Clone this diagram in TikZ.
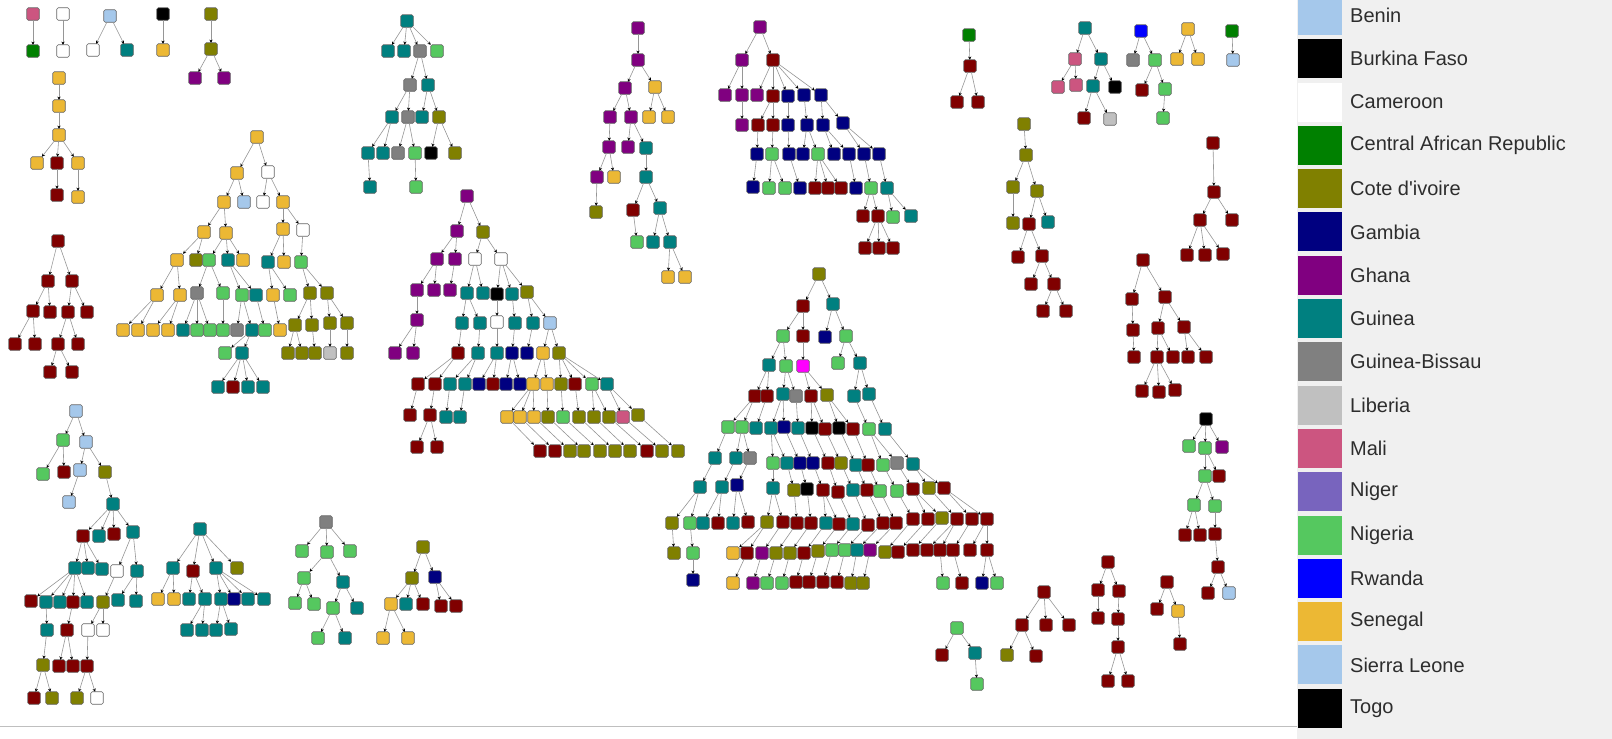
\documentclass[tikz,border=0pt]{standalone}
\usepackage{fontspec}
\newfontfamily\legfont{Liberation Sans}
\usetikzlibrary{arrows.meta}
\definecolor{cM}{RGB}{128,0,0}
\definecolor{cS}{RGB}{236,184,52}
\definecolor{cP}{RGB}{128,0,128}
\definecolor{cT}{RGB}{0,128,128}
\definecolor{cO}{RGB}{128,128,0}
\definecolor{cG}{RGB}{0,0,128}
\definecolor{cN}{RGB}{85,200,95}
\definecolor{cW}{RGB}{255,255,255}
\definecolor{cGB}{RGB}{128,128,128}
\definecolor{cL}{RGB}{192,192,192}
\definecolor{cMl}{RGB}{204,85,128}
\definecolor{cNg}{RGB}{120,100,190}
\definecolor{cSL}{RGB}{165,200,235}
\definecolor{cK}{RGB}{0,0,0}
\definecolor{cC}{RGB}{0,128,0}
\definecolor{cR}{RGB}{0,0,255}
\definecolor{cMg}{RGB}{255,0,255}
\definecolor{panel}{RGB}{240,240,240}
\definecolor{legtext}{RGB}{45,45,45}
\definecolor{edgegray}{RGB}{150,150,150}
\tikzset{
  nd/.style={draw=black!60, line width=0.6pt, rounded corners=1.5pt, minimum size=12.5pt, inner sep=0pt, outer sep=0pt},
  ed/.style={draw=edgegray, line width=0.6pt, -{Stealth[length=3.2pt,width=3.2pt,black]}},
  legsw/.style={minimum width=44pt, minimum height=39pt, inner sep=0pt, outer sep=0pt},
  legtx/.style={anchor=west, inner sep=0pt, text=legtext, font=\legfont\fontsize{20}{24}\selectfont}
}
\newcommand\RT[4]{\node[nd,fill=#4] (#1) at (#2,#3) {};}
\newcommand\CH[5]{\node[nd,fill=#5] (#1) at (#3,#4) {}; \draw[ed] (#2) -- (#1);}
\begin{document}
\begin{tikzpicture}[x=1pt,y=-1pt]
\useasboundingbox (0,0) rectangle (1612,739);
\fill[white] (0,0) rectangle (1612,739);
\fill[panel] (1297,0) rectangle (1612,739);
\draw[black!25, line width=0.8pt] (0,726) -- (1297,726);
% legend
\foreach \c/\t [count=\i from 0] in {cSL/Benin, cK/Burkina Faso, cW/Cameroon, cC/Central African Republic, cO/Cote d'ivoire, cG/Gambia, cP/Ghana, cT/Guinea, cGB/Guinea-Bissau, cL/Liberia, cMl/Mali, cNg/Niger, cN/Nigeria, cR/Rwanda, cS/Senegal, cSL/Sierra Leone, cK/Togo}{
  \node[legsw, fill=\c] (ls\i) at (1319.5, 15.4+43.3*\i) {};
  \node[legtx] (lt\i) at (1350, 15.4+43.3*\i) {\t};
}
% small trees top-left
\RT{a1}{33}{14}{cMl} \CH{a2}{a1}{33}{51}{cC}
\RT{b1}{63}{14}{cW} \CH{b2}{b1}{63}{51}{cW}
\RT{c1}{110}{16}{cSL} \CH{c2}{c1}{93}{50}{cW} \CH{c3}{c1}{127}{50}{cT}
\RT{d1}{163}{14}{cK} \CH{d2}{d1}{163}{50}{cS}
\RT{e1}{211}{14}{cO} \CH{e2}{e1}{211}{49}{cO} \CH{e3}{e2}{195}{78}{cP} \CH{e4}{e2}{224}{78}{cP}
\RT{f1}{59}{78}{cS} \CH{f2}{f1}{59}{106}{cS} \CH{f3}{f2}{59}{135}{cS}
\CH{f4}{f3}{37}{163}{cS} \CH{f5}{f3}{57}{163}{cM} \CH{f6}{f3}{78}{163}{cS}
\CH{f7}{f5}{57}{195}{cM} \CH{f8}{f6}{78}{197}{cS}
% maroon left
\RT{g1}{58}{241}{cM} \CH{g2}{g1}{48}{281}{cM} \CH{g3}{g1}{72}{281}{cM}
\CH{g4}{g2}{33}{311}{cM} \CH{g5}{g2}{50}{312}{cM} \CH{g6}{g3}{68}{312}{cM} \CH{g7}{g3}{87}{312}{cM}
\CH{g8}{g4}{15}{344}{cM} \CH{g9}{g4}{35}{344}{cM} \CH{g10}{g6}{58}{344}{cM} \CH{g11}{g6}{78}{344}{cM}
\CH{g12}{g10}{50}{372}{cM} \CH{g13}{g10}{72}{372}{cM}
% senegal tree
\RT{h1}{257}{137}{cS}
\CH{h2}{h1}{237}{173}{cS} \CH{h3}{h1}{268}{172}{cW}
\CH{h4}{h2}{224}{202}{cS} \CH{h5}{h2}{244}{202}{cSL} \CH{h6}{h3}{263}{202}{cW} \CH{h7}{h3}{283}{202}{cS}
\CH{h8}{h4}{204}{232}{cS} \CH{h9}{h4}{226}{233}{cS} \CH{h10}{h7}{283}{229}{cS} \CH{h11}{h7}{303}{230}{cW}
\CH{h12}{h8}{177}{260}{cS} \CH{h13}{h8}{196}{260}{cO} \CH{h14}{h9}{209}{260}{cN} \CH{h15}{h9}{228}{260}{cT} \CH{h16}{h9}{243}{260}{cS}
\CH{h17}{h10}{268}{262}{cT} \CH{h18}{h10}{284}{262}{cS} \CH{h19}{h11}{301}{262}{cN}
\CH{h20}{h12}{157}{295}{cS} \CH{h21}{h12}{180}{295}{cS} \CH{h22}{h14}{197}{293}{cGB} \CH{h23}{h14}{223}{293}{cN}
\CH{h24}{h15}{242}{295}{cN} \CH{h25}{h15}{256}{295}{cT} \CH{h26}{h17}{273}{295}{cS} \CH{h27}{h17}{290}{295}{cN}
\CH{h28}{h19}{310}{293}{cO} \CH{h29}{h19}{327}{293}{cO}
\CH{h30}{h20}{123}{330}{cS} \CH{h31}{h20}{138}{330}{cS} \CH{h32}{h21}{153}{330}{cS} \CH{h33}{h21}{168}{330}{cS}
\CH{h34}{h22}{183}{330}{cT} \CH{h35}{h22}{197}{330}{cN} \CH{h36}{h22}{210}{330}{cN} \CH{h37}{h23}{223}{330}{cN}
\CH{h38}{h24}{237}{330}{cGB} \CH{h39}{h24}{252}{330}{cT} \CH{h40}{h25}{265}{330}{cN} \CH{h41}{h26}{280}{330}{cS}
\CH{h42}{h28}{295}{325}{cO} \CH{h43}{h28}{312}{325}{cO} \CH{h44}{h29}{330}{323}{cO} \CH{h45}{h29}{347}{323}{cO}
\CH{h46}{h39}{225}{353}{cN} \CH{h47}{h39}{242}{353}{cT}
\CH{h48}{h42}{288}{353}{cO} \CH{h49}{h42}{302}{353}{cO} \CH{h50}{h43}{315}{353}{cO} \CH{h51}{h44}{330}{353}{cL} \CH{h52}{h45}{347}{353}{cO}
\CH{h53}{h47}{218}{387}{cT} \CH{h54}{h47}{233}{387}{cM} \CH{h55}{h47}{248}{387}{cT} \CH{h56}{h47}{263}{387}{cT}
% teal top tree
\RT{i1}{407}{21}{cT}
\CH{i2}{i1}{388}{51}{cT} \CH{i3}{i1}{404}{51}{cT} \CH{i4}{i1}{420}{51}{cGB} \CH{i5}{i1}{437}{51}{cN}
\CH{i6}{i4}{410}{85}{cGB} \CH{i7}{i4}{428}{85}{cT}
\CH{i8}{i6}{392}{117}{cT} \CH{i9}{i6}{408}{117}{cGB} \CH{i10}{i7}{422}{117}{cT} \CH{i11}{i7}{439}{117}{cO}
\CH{i12}{i8}{368}{153}{cT} \CH{i13}{i8}{383}{153}{cT} \CH{i14}{i9}{398}{153}{cGB} \CH{i15}{i9}{415}{153}{cN}
\CH{i16}{i11}{431}{153}{cK} \CH{i17}{i11}{455}{153}{cO}
\CH{i18}{i12}{370}{187}{cT} \CH{i19}{i15}{416}{187}{cN}
% ghana tree top
\RT{j1}{638}{28}{cP} \CH{j2}{j1}{638}{60}{cP}
\CH{j3}{j2}{625}{88}{cP} \CH{j4}{j2}{655}{87}{cS}
\CH{j5}{j3}{610}{117}{cP} \CH{j6}{j3}{631}{117}{cP} \CH{j7}{j4}{649}{117}{cS} \CH{j8}{j4}{668}{117}{cS}
\CH{j9}{j5}{609}{147}{cP} \CH{j10}{j6}{628}{147}{cP} \CH{j11}{j6}{646}{148}{cT}
\CH{j12}{j9}{597}{177}{cP} \CH{j13}{j9}{614}{177}{cS} \CH{j14}{j12}{596}{212}{cO}
\CH{j15}{j11}{646}{177}{cT} \CH{j16}{j15}{633}{210}{cM} \CH{j17}{j15}{660}{208}{cT}
\CH{j18}{j16}{637}{242}{cN} \CH{j19}{j17}{653}{242}{cT} \CH{j20}{j17}{670}{242}{cT}
\CH{j21}{j20}{668}{277}{cS} \CH{j22}{j20}{685}{277}{cS}
% ghana-gambia tree
\RT{k1}{760}{27}{cP}
\CH{k2}{k1}{742}{60}{cP} \CH{k3}{k1}{773}{60}{cM}
\CH{k4}{k2}{725}{95}{cP} \CH{k5}{k2}{742}{95}{cP} \CH{k6}{k3}{757}{95}{cP} \CH{k7}{k3}{773}{96}{cM}
\CH{k8}{k3}{788}{96}{cG} \CH{k9}{k3}{804}{95}{cG} \CH{k10}{k3}{821}{95}{cG}
\CH{k11}{k5}{742}{125}{cP} \CH{k12}{k7}{758}{125}{cM} \CH{k13}{k7}{773}{125}{cM} \CH{k14}{k8}{788}{125}{cG}
\CH{k15}{k9}{807}{125}{cG} \CH{k16}{k10}{823}{125}{cG} \CH{k17}{k10}{843}{123}{cG}
\CH{k18}{k12}{757}{154}{cG} \CH{k19}{k13}{772}{154}{cN} \CH{k20}{k14}{789}{154}{cG} \CH{k21}{k15}{803}{154}{cG}
\CH{k22}{k15}{818}{154}{cN} \CH{k23}{k16}{834}{154}{cG} \CH{k24}{k16}{849}{154}{cG} \CH{k25}{k17}{864}{154}{cG} \CH{k26}{k17}{879}{154}{cG}
\CH{k27}{k18}{753}{187}{cG} \CH{k28}{k19}{769}{188}{cN} \CH{k29}{k19}{785}{188}{cN} \CH{k30}{k20}{800}{188}{cG}
\CH{k31}{k22}{815}{188}{cM} \CH{k32}{k22}{828}{188}{cM} \CH{k33}{k22}{841}{188}{cM} \CH{k34}{k24}{856}{188}{cG}
\CH{k35}{k25}{871}{188}{cN} \CH{k36}{k26}{887}{188}{cT}
\CH{k37}{k35}{863}{216}{cM} \CH{k38}{k35}{878}{216}{cM} \CH{k39}{k36}{893}{217}{cN} \CH{k40}{k36}{911}{216}{cT}
\CH{k41}{k38}{865}{248}{cM} \CH{k42}{k38}{879}{248}{cM} \CH{k43}{k38}{893}{248}{cM}
% ghana centre tree
\RT{l1}{467}{196}{cP}
\CH{l2}{l1}{457}{231}{cP} \CH{l3}{l1}{483}{232}{cO}
\CH{l4}{l2}{437}{259}{cP} \CH{l5}{l2}{455}{259}{cP} \CH{l6}{l3}{475}{259}{cW} \CH{l7}{l3}{501}{259}{cW}
\CH{l8}{l4}{417}{290}{cP} \CH{l9}{l4}{434}{290}{cP} \CH{l10}{l5}{450}{290}{cP}
\CH{l11}{l6}{467}{293}{cT} \CH{l12}{l6}{483}{293}{cT} \CH{l13}{l7}{497}{294}{cK} \CH{l14}{l7}{512}{294}{cT} \CH{l15}{l7}{527}{292}{cO}
\CH{l16}{l8}{417}{320}{cP} \CH{l17}{l16}{395}{353}{cP} \CH{l18}{l16}{413}{353}{cP}
\CH{l19}{l11}{462}{323}{cT} \CH{l20}{l11}{480}{323}{cT} \CH{l21}{l13}{497}{322}{cW} \CH{l22}{l14}{515}{323}{cT}
\CH{l23}{l15}{533}{323}{cT} \CH{l24}{l15}{550}{323}{cSL}
\CH{l25}{l19}{458}{353}{cM} \CH{l26}{l20}{478}{353}{cT} \CH{l27}{l21}{497}{353}{cT} \CH{l28}{l22}{512}{353}{cG}
\CH{l29}{l23}{527}{353}{cG} \CH{l30}{l24}{543}{353}{cS} \CH{l31}{l24}{559}{353}{cO}
\CH{l32}{l25}{418}{384}{cM} \CH{l33}{l25}{435}{384}{cM} \CH{l34}{l26}{450}{384}{cT} \CH{l35}{l26}{465}{384}{cT}
\CH{l36}{l27}{479}{384}{cG} \CH{l37}{l27}{493}{384}{cM} \CH{l38}{l28}{506}{384}{cG} \CH{l39}{l28}{520}{384}{cG}
\CH{l40}{l30}{533}{384}{cS} \CH{l41}{l30}{547}{384}{cS} \CH{l42}{l31}{561}{384}{cO} \CH{l43}{l31}{575}{384}{cM}
\CH{l44}{l31}{592}{384}{cN} \CH{l45}{l31}{607}{384}{cT}
\CH{l46}{l32}{410}{415}{cM} \CH{l47}{l33}{430}{415}{cM} \CH{l48}{l34}{446}{417}{cT} \CH{l49}{l35}{460}{417}{cT}
\CH{l50}{l40}{507}{417}{cS} \CH{l51}{l40}{520}{417}{cS} \CH{l52}{l40}{534}{417}{cS} \CH{l53}{l41}{548}{417}{cO}
\CH{l54}{l42}{563}{417}{cN} \CH{l55}{l43}{579}{417}{cO} \CH{l56}{l44}{594}{417}{cO} \CH{l57}{l44}{609}{417}{cO}
\CH{l58}{l45}{623}{417}{cMl} \CH{l59}{l45}{638}{415}{cO}
\CH{l60}{l47}{417}{447}{cM} \CH{l61}{l47}{437}{447}{cM}
\CH{l62}{l50}{540}{451}{cM} \CH{l63}{l51}{555}{451}{cM} \CH{l64}{l52}{570}{451}{cO} \CH{l65}{l53}{584}{451}{cO}
\CH{l66}{l54}{600}{451}{cO} \CH{l67}{l55}{615}{451}{cO} \CH{l68}{l56}{630}{451}{cO} \CH{l69}{l57}{647}{451}{cM}
\CH{l70}{l58}{662}{451}{cO} \CH{l71}{l59}{678}{451}{cO}
% big centre tree
\RT{m1}{819}{274}{cO}
\CH{m2}{m1}{803}{306}{cM} \CH{m3}{m1}{833}{304}{cT}
\CH{m4}{m2}{783}{336}{cN} \CH{m5}{m2}{803}{336}{cM} \CH{m6}{m3}{825}{337}{cG} \CH{m7}{m3}{846}{336}{cN}
\CH{m8}{m4}{769}{365}{cT} \CH{m9}{m4}{786}{366}{cN} \CH{m10}{m5}{803}{366}{cMg} \CH{m11}{m7}{838}{363}{cN} \CH{m12}{m7}{860}{363}{cT}
\CH{m13}{m8}{755}{396}{cM} \CH{m14}{m8}{767}{396}{cM} \CH{m15}{m9}{783}{394}{cT} \CH{m16}{m9}{796}{396}{cGB}
\CH{m17}{m10}{811}{396}{cM} \CH{m18}{m10}{827}{395}{cO} \CH{m19}{m12}{854}{396}{cT} \CH{m20}{m12}{869}{394}{cT}
\CH{m21}{m13}{728}{427}{cN} \CH{m22}{m13}{742}{427}{cN} \CH{m23}{m14}{756}{428}{cT} \CH{m24}{m15}{771}{428}{cT}
\CH{m25}{m15}{784}{427}{cG} \CH{m26}{m16}{798}{428}{cT} \CH{m27}{m17}{812}{428}{cK} \CH{m28}{m17}{825}{429}{cM}
\CH{m29}{m18}{839}{428}{cK} \CH{m30}{m18}{853}{429}{cM} \CH{m31}{m19}{869}{429}{cN} \CH{m32}{m20}{885}{429}{cT}
\CH{m33}{m21}{715}{458}{cT} \CH{m34}{m22}{736}{458}{cT} \CH{m35}{m22}{750}{458}{cGB}
\CH{m36}{m24}{773}{463}{cN} \CH{m37}{m24}{787}{463}{cT} \CH{m38}{m25}{800}{463}{cG} \CH{m39}{m26}{813}{463}{cG}
\CH{m40}{m27}{828}{463}{cM} \CH{m41}{m28}{841}{463}{cO} \CH{m42}{m29}{856}{465}{cT} \CH{m43}{m30}{868}{465}{cM}
\CH{m44}{m31}{883}{465}{cN} \CH{m45}{m31}{897}{463}{cGB} \CH{m46}{m32}{913}{464}{cT}
\CH{m47}{m33}{700}{487}{cT} \CH{m48}{m34}{722}{487}{cT} \CH{m49}{m35}{737}{485}{cG}
\CH{m50}{m36}{773}{488}{cT} \CH{m51}{m37}{794}{490}{cO} \CH{m52}{m38}{807}{489}{cK} \CH{m53}{m39}{823}{490}{cM}
\CH{m54}{m40}{838}{492}{cM} \CH{m55}{m41}{853}{490}{cT} \CH{m56}{m42}{867}{490}{cM} \CH{m57}{m43}{880}{491}{cN}
\CH{m58}{m44}{897}{491}{cN} \CH{m59}{m45}{913}{489}{cM} \CH{m60}{m46}{929}{488}{cO} \CH{m61}{m46}{944}{488}{cM}
\CH{m62}{m47}{672}{523}{cO} \CH{m63}{m47}{690}{523}{cN} \CH{m64}{m48}{703}{523}{cT} \CH{m65}{m48}{718}{523}{cM}
\CH{m66}{m49}{733}{523}{cT} \CH{m67}{m49}{748}{522}{cM} \CH{m68}{m50}{767}{522}{cO} \CH{m69}{m50}{783}{522}{cM}
\CH{m70}{m51}{797}{523}{cM} \CH{m71}{m52}{811}{523}{cM} \CH{m72}{m53}{826}{523}{cT} \CH{m73}{m53}{839}{524}{cM}
\CH{m74}{m54}{853}{524}{cT} \CH{m75}{m55}{868}{525}{cM} \CH{m76}{m56}{883}{523}{cM} \CH{m77}{m57}{896}{523}{cM}
\CH{m78}{m58}{913}{519}{cM} \CH{m79}{m59}{928}{519}{cM} \CH{m80}{m59}{942}{518}{cO} \CH{m81}{m60}{957}{519}{cM}
\CH{m82}{m61}{972}{519}{cM} \CH{m83}{m61}{987}{519}{cM}
\CH{m84}{m62}{674}{553}{cO} \CH{m85}{m63}{693}{553}{cN}
\CH{m86}{m68}{733}{553}{cS} \CH{m87}{m68}{747}{553}{cM} \CH{m88}{m69}{762}{553}{cP} \CH{m89}{m70}{776}{553}{cO}
\CH{m90}{m71}{790}{553}{cO} \CH{m91}{m72}{804}{553}{cM} \CH{m92}{m73}{818}{551}{cO} \CH{m93}{m74}{832}{550}{cN}
\CH{m94}{m75}{845}{550}{cN} \CH{m95}{m76}{857}{550}{cT} \CH{m96}{m77}{870}{550}{cP} \CH{m97}{m78}{885}{552}{cO}
\CH{m98}{m79}{898}{552}{cM} \CH{m99}{m80}{913}{550}{cM} \CH{m100}{m81}{927}{550}{cM} \CH{m101}{m81}{940}{550}{cM}
\CH{m102}{m82}{953}{550}{cM} \CH{m103}{m83}{970}{550}{cM} \CH{m104}{m83}{987}{550}{cM}
\CH{m105}{m85}{693}{580}{cG} \CH{m106}{m87}{733}{583}{cS} \CH{m107}{m88}{753}{583}{cP} \CH{m108}{m89}{767}{583}{cN}
\CH{m109}{m90}{782}{583}{cN} \CH{m110}{m91}{796}{582}{cM} \CH{m111}{m92}{809}{582}{cM} \CH{m112}{m93}{823}{582}{cM}
\CH{m113}{m94}{837}{582}{cM} \CH{m114}{m95}{851}{583}{cO} \CH{m115}{m96}{863}{583}{cO}
\CH{m116}{m101}{943}{583}{cN} \CH{m117}{m102}{962}{583}{cM} \CH{m118}{m104}{982}{583}{cG} \CH{m119}{m104}{997}{583}{cN}
% sierra leone bottom-left tree
\RT{n1}{76}{411}{cSL}
\CH{n2}{n1}{63}{440}{cN} \CH{n3}{n1}{86}{442}{cSL}
\CH{n4}{n2}{43}{474}{cN} \CH{n5}{n2}{64}{472}{cM} \CH{n6}{n3}{80}{470}{cSL} \CH{n7}{n3}{105}{472}{cO}
\CH{n8}{n6}{69}{502}{cSL} \CH{n9}{n7}{113}{504}{cT}
\CH{n10}{n9}{83}{536}{cM} \CH{n11}{n9}{99}{536}{cT} \CH{n12}{n9}{114}{534}{cM} \CH{n13}{n9}{133}{532}{cT}
\CH{n14}{n10}{75}{568}{cT} \CH{n15}{n10}{88}{568}{cT} \CH{n16}{n10}{102}{569}{cT}
\CH{n17}{n13}{117}{571}{cW} \CH{n18}{n13}{137}{571}{cT}
\CH{n19}{n14}{31}{601}{cM} \CH{n20}{n14}{46}{602}{cT} \CH{n21}{n14}{60}{602}{cT} \CH{n22}{n14}{73}{602}{cM}
\CH{n23}{n14}{87}{602}{cT} \CH{n24}{n17}{103}{602}{cO} \CH{n25}{n18}{118}{600}{cT} \CH{n26}{n18}{136}{601}{cT}
\CH{n27}{n20}{47}{630}{cT} \CH{n28}{n22}{67}{630}{cM} \CH{n29}{n24}{88}{630}{cW} \CH{n30}{n24}{103}{630}{cW}
\CH{n31}{n27}{43}{665}{cO} \CH{n32}{n28}{59}{666}{cM} \CH{n33}{n28}{73}{666}{cM} \CH{n34}{n29}{87}{666}{cM}
\CH{n35}{n31}{34}{698}{cM} \CH{n36}{n31}{52}{698}{cO} \CH{n37}{n34}{77}{698}{cO} \CH{n38}{n34}{97}{698}{cW}
% teal bottom tree
\RT{o1}{200}{529}{cT}
\CH{o2}{o1}{173}{568}{cT} \CH{o3}{o1}{193}{571}{cM} \CH{o4}{o1}{216}{568}{cT} \CH{o5}{o1}{237}{568}{cO}
\CH{o6}{o2}{158}{599}{cS} \CH{o7}{o2}{174}{599}{cS} \CH{o8}{o3}{189}{599}{cT} \CH{o9}{o3}{205}{599}{cT}
\CH{o10}{o4}{221}{599}{cT} \CH{o11}{o4}{234}{599}{cG} \CH{o12}{o4}{248}{599}{cT} \CH{o13}{o4}{264}{599}{cT}
\CH{o14}{o9}{187}{630}{cT} \CH{o15}{o9}{202}{630}{cT} \CH{o16}{o10}{216}{630}{cT} \CH{o17}{o10}{231}{629}{cT}
% guinea-bissau tree
\RT{p1}{326}{522}{cGB}
\CH{p2}{p1}{302}{551}{cN} \CH{p3}{p1}{327}{552}{cN} \CH{p4}{p1}{350}{551}{cN}
\CH{p5}{p3}{304}{578}{cN} \CH{p6}{p3}{343}{582}{cT}
\CH{p7}{p5}{295}{603}{cN} \CH{p8}{p5}{314}{604}{cN} \CH{p9}{p6}{333}{608}{cN} \CH{p10}{p6}{357}{608}{cT}
\CH{p11}{p9}{318}{638}{cN} \CH{p12}{p9}{345}{638}{cT}
% olive bottom tree
\RT{q1}{423}{547}{cO}
\CH{q2}{q1}{412}{578}{cO} \CH{q3}{q1}{435}{577}{cG}
\CH{q4}{q2}{391}{604}{cS} \CH{q5}{q2}{406}{604}{cT} \CH{q6}{q2}{423}{604}{cM}
\CH{q7}{q3}{441}{606}{cM} \CH{q8}{q3}{456}{606}{cM}
\CH{q9}{q4}{383}{638}{cS} \CH{q10}{q4}{408}{638}{cS}
% right side small trees
\RT{r1}{969}{35}{cC} \CH{r2}{r1}{970}{66}{cM} \CH{r3}{r2}{957}{102}{cM} \CH{r4}{r2}{978}{102}{cM}
\RT{s1}{1085}{28}{cT} \CH{s2}{s1}{1075}{59}{cMl} \CH{s3}{s1}{1101}{59}{cT}
\CH{s4}{s2}{1058}{87}{cMl} \CH{s5}{s2}{1076}{85}{cMl} \CH{s6}{s3}{1093}{86}{cT} \CH{s7}{s3}{1115}{87}{cK}
\CH{s8}{s6}{1084}{118}{cM} \CH{s9}{s6}{1110}{119}{cL}
\RT{t1}{1141}{31}{cR} \CH{t2}{t1}{1133}{60}{cGB} \CH{t3}{t1}{1155}{60}{cN}
\CH{t4}{t3}{1142}{90}{cM} \CH{t5}{t3}{1165}{89}{cN} \CH{t6}{t5}{1163}{118}{cN}
\RT{u1}{1188}{29}{cS} \CH{u2}{u1}{1177}{59}{cS} \CH{u3}{u1}{1198}{59}{cS}
\RT{v1}{1232}{31}{cC} \CH{v2}{v1}{1233}{60}{cSL}
\RT{w1}{1024}{124}{cO} \CH{w2}{w1}{1026}{155}{cO} \CH{w3}{w2}{1013}{187}{cO} \CH{w4}{w2}{1037}{191}{cO}
\CH{w5}{w3}{1013}{223}{cO} \CH{w6}{w4}{1029}{224}{cM} \CH{w7}{w4}{1048}{222}{cT}
\CH{w8}{w6}{1018}{257}{cM} \CH{w9}{w6}{1042}{256}{cM} \CH{w10}{w9}{1031}{284}{cM} \CH{w11}{w9}{1054}{284}{cM}
\CH{w12}{w11}{1043}{311}{cM} \CH{w13}{w11}{1066}{311}{cM}
\RT{x1}{1213}{143}{cM} \CH{x2}{x1}{1214}{192}{cM} \CH{x3}{x2}{1200}{220}{cM} \CH{x4}{x2}{1232}{220}{cM}
\CH{x5}{x3}{1187}{255}{cM} \CH{x6}{x3}{1205}{255}{cM} \CH{x7}{x3}{1223}{254}{cM}
\RT{y1}{1143}{260}{cM} \CH{y2}{y1}{1132}{299}{cM} \CH{y3}{y1}{1165}{297}{cM}
\CH{y4}{y2}{1133}{330}{cM} \CH{y5}{y3}{1158}{328}{cM} \CH{y6}{y3}{1184}{327}{cM}
\CH{y7}{y4}{1134}{357}{cM} \CH{y8}{y5}{1157}{357}{cM} \CH{y9}{y5}{1173}{357}{cM} \CH{y10}{y6}{1188}{357}{cM} \CH{y11}{y6}{1206}{357}{cM}
\CH{y12}{y8}{1142}{391}{cM} \CH{y13}{y8}{1159}{392}{cM} \CH{y14}{y8}{1175}{390}{cM}
\RT{z1}{1206}{419}{cK} \CH{z2}{z1}{1189}{446}{cN} \CH{z3}{z1}{1205}{448}{cN} \CH{z4}{z1}{1222}{447}{cP}
\CH{z5}{z3}{1205}{476}{cN} \CH{z6}{z3}{1219}{476}{cM} \CH{z7}{z5}{1194}{505}{cN} \CH{z8}{z5}{1215}{506}{cN}
\CH{z9}{z7}{1185}{535}{cM} \CH{z10}{z7}{1200}{535}{cM} \CH{z11}{z8}{1215}{534}{cM}
\CH{z12}{z11}{1218}{567}{cM} \CH{z13}{z12}{1208}{593}{cM} \CH{z14}{z12}{1229}{593}{cSL}
\RT{aa1}{957}{628}{cN} \CH{aa2}{aa1}{942}{655}{cM} \CH{aa3}{aa1}{975}{653}{cT} \CH{aa4}{aa3}{977}{684}{cN}
\RT{bb1}{1044}{592}{cM} \CH{bb2}{bb1}{1022}{625}{cM} \CH{bb3}{bb1}{1046}{625}{cM} \CH{bb4}{bb1}{1069}{625}{cM}
\CH{bb5}{bb2}{1007}{655}{cO} \CH{bb6}{bb2}{1036}{656}{cM}
\RT{cc1}{1108}{562}{cM} \CH{cc2}{cc1}{1098}{590}{cM} \CH{cc3}{cc1}{1119}{591}{cM}
\CH{cc4}{cc2}{1098}{618}{cM} \CH{cc5}{cc3}{1118}{619}{cM} \CH{cc6}{cc5}{1118}{647}{cM}
\CH{cc7}{cc6}{1108}{681}{cM} \CH{cc8}{cc6}{1128}{681}{cM}
\RT{dd1}{1167}{582}{cM} \CH{dd2}{dd1}{1157}{609}{cM} \CH{dd3}{dd1}{1178}{611}{cS} \CH{dd4}{dd3}{1180}{644}{cM}
\end{tikzpicture}
\end{document}
